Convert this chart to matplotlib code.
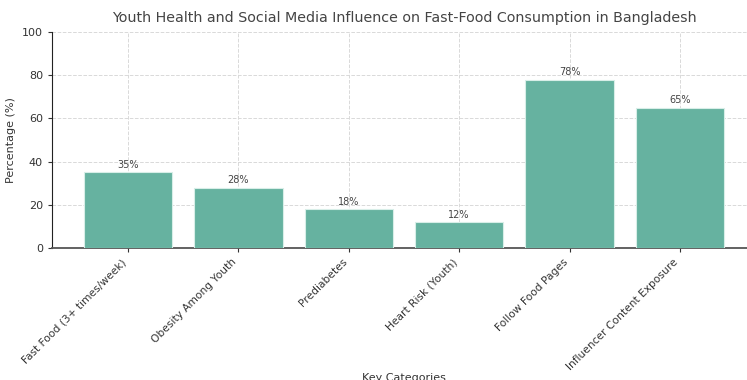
import matplotlib
matplotlib.use("Agg")
import matplotlib.pyplot as plt

categories = ["Fast Food (3+ times/week)", "Obesity Among Youth", "Prediabetes",
              "Heart Risk (Youth)", "Follow Food Pages", "Influencer Content Exposure"]
values = [35, 28, 18, 12, 78, 65]

fig = plt.figure(figsize=(7.47, 3.8), dpi=100)
ax = fig.add_axes([52/747, 1-248/380, 704/747, (248-32)/380])

bars = ax.bar(categories, values, width=0.8, color="#66b2a0", edgecolor="#d8eee8", linewidth=0.8, zorder=3)
for b, v in zip(bars, values):
    ax.text(b.get_x() + b.get_width()/2, v + 1, f"{v}%", ha="center", va="bottom",
            fontsize=7, color="#444444", zorder=4)

ax.set_ylim(0, 100)
ax.set_yticks([0, 20, 40, 60, 80, 100])
ax.grid(True, linestyle="--", color="#d9d9d9", linewidth=0.7, zorder=0)
ax.set_axisbelow(True)
for s in ["top", "right"]:
    ax.spines[s].set_visible(False)
ax.spines["bottom"].set_color("#555555")
ax.spines["bottom"].set_linewidth(1.3)
ax.spines["left"].set_color("#222222")
ax.spines["left"].set_linewidth(0.8)

ax.tick_params(axis="y", labelsize=8, colors="#333333", length=3)
ax.tick_params(axis="x", labelsize=7.7, colors="#333333", length=3)
plt.setp(ax.get_xticklabels(), rotation=45, ha="right")

ax.set_title("Youth Health and Social Media Influence on Fast-Food Consumption in Bangladesh",
             fontsize=10.3, color="#444444", pad=7)
ax.set_ylabel("Percentage (%)", fontsize=8, color="#333333")
ax.set_xlabel("Key Categories", fontsize=8, color="#333333", labelpad=1)

fig.savefig("out.png", dpi=100)
